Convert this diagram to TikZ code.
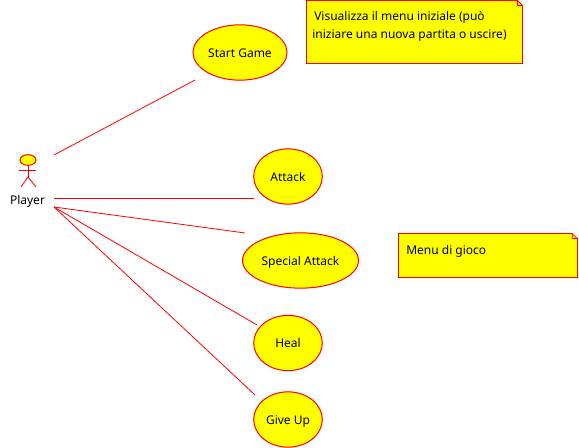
\documentclass[tikz,border=0pt]{standalone}
\usepackage{fontspec}
\setmainfont{Noto Sans}
\usetikzlibrary{shapes.geometric}
\definecolor{umlred}{RGB}{255,0,0}
\definecolor{umlyellow}{RGB}{255,255,0}
\tikzset{
  usecase/.style={ellipse,draw=umlred,fill=umlyellow,line width=0.75pt,inner sep=0pt,font=\fontsize{9}{11}\selectfont,text=black,text height=8.8pt,text depth=2pt},
  notebox/.style={rectangle,draw=umlred,fill=umlyellow,line width=0.75pt,inner sep=0pt,outer sep=0pt,anchor=north west},
  notetext/.style={anchor=north west,inner sep=0pt,font=\fontsize{9}{13.5}\selectfont,align=left},
  link/.style={draw=umlred,line width=0.6pt},
  fold/.style={draw=umlred,fill=umlyellow,line width=0.6pt},
}
\begin{document}
\begin{tikzpicture}[x=0.75pt,y=-0.75pt]
  \useasboundingbox (0,0) rectangle (579,448);

  % use cases
  \node[usecase,minimum width=70.5pt,minimum height=41.5pt] (start) at (240,52.5) {Start Game};
  \node[usecase,minimum width=51.5pt,minimum height=41.5pt] (attack) at (288,176.5) {Attack};
  \node[usecase,minimum width=87pt,minimum height=41.5pt] (special) at (300.5,260.5) {Special Attack};
  \node[usecase,minimum width=51.5pt,minimum height=41.5pt] (heal) at (288,343) {Heal};
  \node[usecase,minimum width=51.5pt,minimum height=41.5pt] (giveup) at (288,419.5) {Give Up};

  % actor
  \node[ellipse,draw=umlred,fill=umlyellow,line width=0.75pt,minimum width=12pt,minimum height=8pt,inner sep=0pt] (head) at (28,160) {};
  \coordinate (hip) at (28,177);
  \draw[link] (head.south) -- (hip);
  \draw[link] (19,170) -- (36,170);
  \draw[link] (21,187) -- (hip) -- (36,187);
  \node[font=\fontsize{9}{11}\selectfont,inner sep=0pt] (player) at (27.5,201.5) {Player};

  % connectors
  \coordinate (fromtop) at (54,155);
  \coordinate (frommid) at (54,198);
  \coordinate (fromlow) at (54,207);
  \coordinate (tostart) at (195,80);
  \coordinate (toattack) at (254,198);
  \coordinate (tospecial) at (245,233);
  \coordinate (toheal) at (257,325);
  \coordinate (togiveup) at (255,395);
  \draw[link] (fromtop) -- (tostart);
  \draw[link] (frommid) -- (toattack);
  \draw[link] (fromlow) -- (tospecial);
  \draw[link] (fromlow) -- (toheal);
  \draw[link] (fromlow) -- (togiveup);

  % notes
  \node[notebox,minimum width=162pt,minimum height=47pt] (note1) at (306.5,0.5) {};
  \fill[white] (note1.north east) ++(-5,-2) rectangle ++(8,7);
  \draw[fold] (note1.north east) ++(-5,0) -- ++(5,5) -- ++(-5,0) -- cycle;
  \draw[umlred,line width=0.75pt] (note1.north east) ++(0,5) -- (note1.east);
  \node[notetext] (text1) at (312,11) {\,Visualizza il menu iniziale (può\\iniziare una nuova partita o uscire)};

  \node[notebox,minimum width=134pt,minimum height=33pt] (note2) at (398.5,233.5) {};
  \fill[white] (note2.north east) ++(-5,-2) rectangle ++(8,7);
  \draw[fold] (note2.north east) ++(-5,0) -- ++(5,5) -- ++(-5,0) -- cycle;
  \draw[umlred,line width=0.75pt] (note2.north east) ++(0,5) -- (note2.east);
  \node[notetext] (text2) at (406,245.5) {Menu di gioco};
\end{tikzpicture}
\end{document}
